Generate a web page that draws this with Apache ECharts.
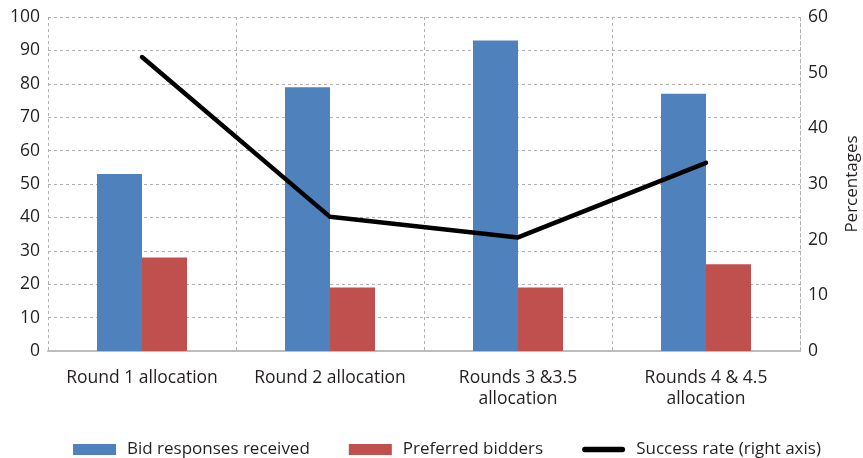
<!DOCTYPE html>
<html>
<head>
<meta charset="utf-8">
<script src="https://cdn.jsdelivr.net/npm/echarts@6/dist/echarts.min.js"></script>
<style>
  html, body { margin: 0; padding: 0; background: #fff; }
  #chart { width: 863px; height: 458px; }
</style>
</head>
<body>
<div id="chart"></div>
<script>
// Allocation rounds and their counts
const categories = ['Round 1 allocation', 'Round 2 allocation', 'Rounds 3 &3.5\nallocation', 'Rounds 4 & 4.5\nallocation'];
const bidResponses = [53, 79, 93, 77];
const preferredBidders = [28, 19, 19, 26];
const successRate = [52.8, 24.1, 20.4, 33.8];
const leftTicks = { min: 0, max: 100, interval: 10 };
const rightTicks = { min: 0, max: 60, interval: 10 };

const FONT = 'Open Sans';
const textColor = '#231f20';
const gridLine = { show: true, lineStyle: { color: '#b0b0b0', type: [3, 3], width: 1 } };

const chart = echarts.init(document.getElementById('chart'), null, { renderer: 'canvas' });
chart.setOption({
  animation: false,
  textStyle: { fontFamily: FONT },
  grid: { left: 48, right: 63, top: 17, bottom: 107, containLabel: false, outerBoundsMode: 'none' },
  legend: {
    top: 436,
    left: 68,
    itemGap: 39,
    itemWidth: 43,
    itemHeight: 11,
    textStyle: { fontFamily: FONT, fontSize: 17, color: textColor, padding: [0, 0, 0, 6] },
    data: [
      { name: 'Bid responses received', icon: 'rect' },
      { name: 'Preferred bidders', icon: 'rect' },
      { name: 'Success rate (right axis)', icon: 'path://M3,0 L44,0 A3,3 0 0 1 44,6 L3,6 A3,3 0 0 1 3,0 Z', itemStyle: { color: '#000' } }
    ]
  },
  xAxis: {
    type: 'category',
    data: categories,
    axisLine: { show: true, lineStyle: { color: '#bdbdbd', width: 2 } },
    axisTick: { show: false },
    splitLine: gridLine,
    axisLabel: { fontFamily: FONT, fontSize: 17.5, color: textColor, margin: 17, lineHeight: 21, interval: 0 }
  },
  yAxis: [
    {
      type: 'value',
      min: leftTicks.min, max: leftTicks.max, interval: leftTicks.interval,
      axisLine: { show: false },
      axisTick: { show: false },
      splitLine: gridLine,
      axisLabel: { fontFamily: FONT, fontSize: 17.5, color: textColor, margin: 8 }
    },
    {
      type: 'value',
      min: rightTicks.min, max: rightTicks.max, interval: rightTicks.interval,
      position: 'right',
      name: 'Percentages',
      nameLocation: 'middle',
      nameGap: 44,
      nameRotate: 90,
      nameTextStyle: { fontFamily: FONT, fontSize: 17, color: textColor },
      axisLine: { show: true, lineStyle: { color: '#b0b0b0', type: [3, 3], width: 1 } },
      axisTick: { show: false },
      splitLine: { show: false },
      axisLabel: { fontFamily: FONT, fontSize: 17.5, color: textColor, margin: 8 }
    }
  ],
  series: [
    {
      name: 'Bid responses received',
      type: 'bar',
      data: bidResponses,
      barWidth: 45,
      barGap: '0%',
      itemStyle: { color: '#4f81bd' }
    },
    {
      name: 'Preferred bidders',
      type: 'bar',
      data: preferredBidders,
      barWidth: 45,
      barGap: '0%',
      itemStyle: { color: '#c0504d' }
    },
    {
      name: 'Success rate (right axis)',
      type: 'line',
      yAxisIndex: 1,
      data: successRate,
      symbol: 'none',
      lineStyle: { color: '#000', width: 4.5, cap: 'round', join: 'round' },
      itemStyle: { color: '#000' },
      z: 5
    }
  ]
});
</script>
</body>
</html>
